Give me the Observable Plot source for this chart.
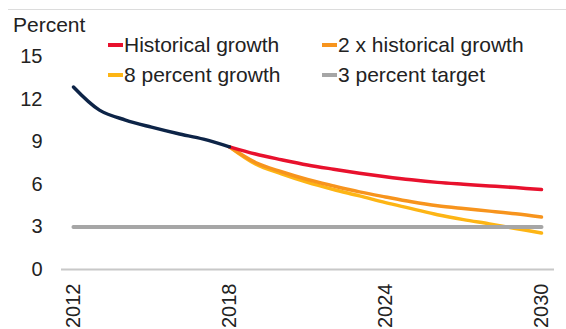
<!DOCTYPE html>
<html>
<head>
<meta charset="utf-8">
<script src="https://cdn.jsdelivr.net/npm/d3@7"></script>
<script src="https://cdn.jsdelivr.net/npm/@observablehq/plot@0.6"></script>
<style>
  html, body { margin: 0; padding: 0; background: #fff; }
  #wrap { position: relative; width: 566px; height: 329px; overflow: hidden; font-family: "Liberation Sans", Arial, sans-serif; color: #222; }
  #topline { position: absolute; left: 8px; right: 0; top: 9px; border-top: 1px solid #dcdcdc; }
  #unit { position: absolute; left: 13px; top: 14px; font-size: 21px; line-height: 21px; }
  .leg { position: absolute; display: flex; align-items: center; font-size: 21px; line-height: 24px; white-space: nowrap; }
  .sw { display: inline-block; width: 15px; height: 4px; margin-right: 1px; }
  svg { position: absolute; left: 0; top: 0; }
</style>
</head>
<body>
<div id="wrap"></div>
<script>
// ---- data ----
const histYears = [2012, 2013, 2014, 2015, 2016, 2017, 2018];
const histValues = [12.88, 11.25, 10.55, 10.05, 9.6, 9.2, 8.66];

const projYears = [2018, 2019, 2020, 2021, 2022, 2023, 2024, 2025, 2026, 2027, 2028, 2029, 2030];
const historicalGrowth = [8.66, 8.15, 7.75, 7.38, 7.08, 6.8, 6.55, 6.33, 6.15, 6.02, 5.9, 5.78, 5.64];
const doubleGrowth     = [8.66, 7.55, 6.9, 6.35, 5.9, 5.48, 5.12, 4.78, 4.5, 4.3, 4.12, 3.93, 3.70];
const eightPercent     = [8.66, 7.45, 6.75, 6.15, 5.65, 5.2, 4.72, 4.3, 3.87, 3.52, 3.22, 2.9, 2.57];

const targetYears = [2012, 2030];
const targetValue = 3;

const seriesNames = ["Historical growth", "2 x historical growth", "8 percent growth", "3 percent target"];
const seriesColors = ["#e8112d", "#f7941d", "#fdb515", "#a6a6a6"];
const historyColor = "#0d2447";

const xTicks = [2012, 2018, 2024, 2030];
const yTicks = [0, 3, 6, 9, 12, 15];
const unitLabel = "Percent";

// ---- build tables ----
const hist = histYears.map((x, i) => ({x, y: histValues[i]}));
const proj = (vals) => projYears.map((x, i) => ({x, y: vals[i]}));
const target = targetYears.map(x => ({x, y: targetValue}));

const chart = Plot.plot({
  width: 566,
  height: 329,
  marginLeft: 61,
  marginRight: 12,
  marginTop: 56.5,
  marginBottom: 60,
  style: {fontFamily: "'Liberation Sans', Arial, sans-serif", fontSize: "20px", color: "#222", background: "transparent", overflow: "visible"},
  x: {domain: [2011.54, 2030.5], ticks: xTicks, tickFormat: d => String(d), tickRotate: -90, tickSize: 0, tickPadding: 14, label: null},
  y: {domain: [0, 15], ticks: yTicks, tickSize: 0, tickPadding: 19, label: null},
  marks: [
    Plot.ruleY([0], {stroke: "#c8c8c8", strokeWidth: 2}),
    Plot.line(proj(eightPercent), {x: "x", y: "y", stroke: seriesColors[2], strokeWidth: 3.5, curve: "catmull-rom"}),
    Plot.line(proj(doubleGrowth), {x: "x", y: "y", stroke: seriesColors[1], strokeWidth: 3.5, curve: "catmull-rom"}),
    Plot.line(proj(historicalGrowth), {x: "x", y: "y", stroke: seriesColors[0], strokeWidth: 3.5, curve: "catmull-rom"}),
    Plot.line(hist, {x: "x", y: "y", stroke: historyColor, strokeWidth: 3.5, curve: "catmull-rom"}),
    Plot.line(target, {x: "x", y: "y", stroke: seriesColors[3], strokeWidth: 4})
  ]
});

const wrap = document.getElementById("wrap");
wrap.appendChild(chart);

const topLine = document.createElement("div"); topLine.id = "topline"; wrap.appendChild(topLine);
const unitEl = document.createElement("div"); unitEl.id = "unit"; unitEl.textContent = unitLabel; wrap.appendChild(unitEl);

const legPos = [[108, 32.5], [322, 32.5], [108, 62.5], [322, 62.5]];
seriesNames.forEach((name, i) => {
  const d = document.createElement("div");
  d.className = "leg";
  d.style.left = legPos[i][0] + "px";
  d.style.top = legPos[i][1] + "px";
  const sw = document.createElement("span");
  sw.className = "sw";
  sw.style.background = seriesColors[i];
  d.appendChild(sw);
  d.appendChild(document.createTextNode(name));
  wrap.appendChild(d);
});
</script>
</body>
</html>
